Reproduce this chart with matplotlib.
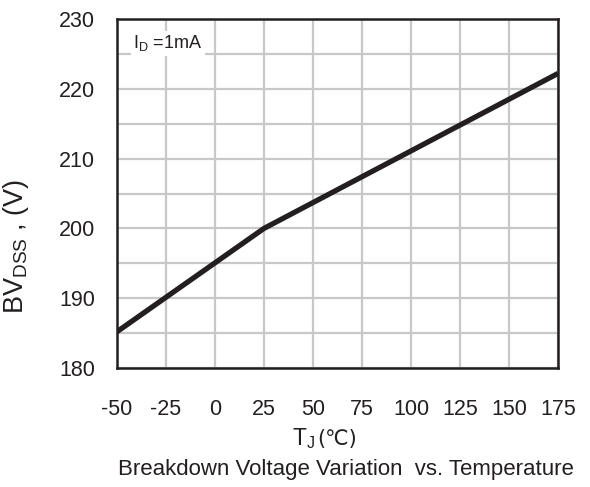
import matplotlib.pyplot as plt
import numpy as np

# data
temp = [-50, 25, 175]
bvdss = [185.2, 200.0, 222.2]
xticks = [-50, -25, 0, 25, 50, 75, 100, 125, 150, 175]
yticks = [180, 190, 200, 210, 220, 230]

plt.rcParams['font.family'] = ['Liberation Sans', 'DejaVu Sans']
plt.rcParams['mathtext.fontset'] = 'custom'
plt.rcParams['mathtext.rm'] = 'Liberation Sans'
plt.rcParams['axes.unicode_minus'] = False

ink = '#231f20'

fig = plt.figure(figsize=(5.9, 4.87), dpi=100)
ax = fig.add_axes([117 / 590, 1 - 368 / 487, 441 / 590, 349 / 487])

ax.plot(temp, bvdss, color=ink, lw=3.8, solid_capstyle='butt', zorder=3)

ax.set_xlim(-50, 175)
ax.set_ylim(180, 230)
ax.set_xticks(xticks)
ax.set_yticks(yticks)
ax.set_yticks(np.arange(185, 230, 10), minor=True)
ax.grid(True, which='both', color='#c8c8c8', lw=1.6)
ax.tick_params(which='both', length=0, labelsize=15.5, colors=ink)
ax.tick_params(axis='x', pad=22)
ax.tick_params(axis='y', pad=16)
for s in ax.spines.values():
    s.set_linewidth(1.8)
    s.set_color(ink)

ax.set_ylabel(r'BV$_{\mathrm{DSS}}$ , (V)', fontsize=19.5, color=ink)
ax.yaxis.set_label_coords(-0.195, (368 - 246) / 349)

ax.text(0.037, 0.93, r'I$_{\mathrm{D}}$ =1mA', transform=ax.transAxes, fontsize=13,
        color=ink, va='center', ha='left',
        bbox=dict(facecolor='white', edgecolor='none', pad=2))

# x label: T_J (℃)
fig.text(292 / 590, 1 - 439 / 487, r'T$_{\mathrm{J}}$', fontsize=16.5, ha='left', va='center', color=ink)
fig.text(317 / 590, 1 - 439 / 487, '(℃)', fontsize=15, ha='left', va='center', color=ink,
         family=['DejaVu Sans'])

fig.text(346 / 590, 1 - 469 / 487, 'Breakdown Voltage Variation  vs. Temperature', fontsize=16,
         ha='center', va='center', color=ink)

fig.savefig('out.png', dpi=100)
